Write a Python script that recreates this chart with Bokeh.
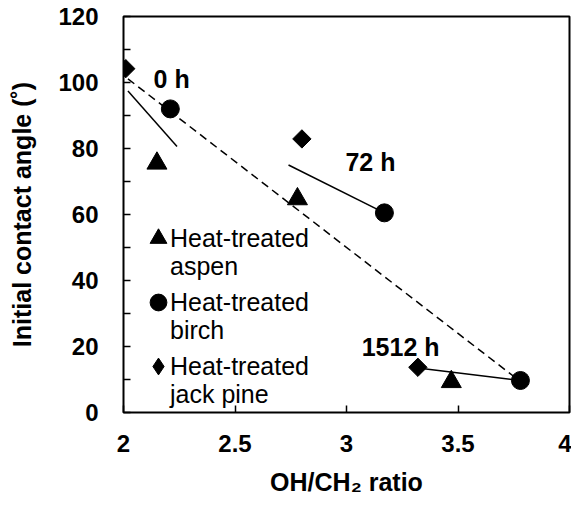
import math
from bokeh.plotting import figure
from bokeh.models import Range1d, FixedTicker, Legend, LegendItem, Label
from bokeh.embed import file_html
from bokeh.resources import INLINE

# ---- data ----
aspen_x = [2.15, 2.78, 3.47]
aspen_y = [75.5, 64.7, 9.3]
birch_x = [2.21, 3.17, 3.78]
birch_y = [92.0, 60.5, 9.7]
jack_x = [2.01, 2.80, 3.32]
jack_y = [104.2, 82.9, 13.7]

# trend lines (endpoints)
dash_x = [2.02, 3.77]
dash_y = [101.1, 9.9]
line0_x = [2.02, 2.24]
line0_y = [97.4, 80.6]
line72_x = [2.74, 3.17]
line72_y = [75.0, 60.5]
line1512_x = [3.32, 3.78]
line1512_y = [13.5, 9.7]

ann_text = ["0 h", "72 h", "1512 h"]
ann_x = [2.135, 2.995, 3.068]
ann_y = [101.0, 76.0, 20.0]

series_line1 = ["Heat-treated", "Heat-treated", "Heat-treated"]
series_line2 = ["aspen", "birch", "jack pine"]

x_ticks = [2, 2.5, 3, 3.5, 4]
y_ticks = [0, 20, 40, 60, 80, 100, 120]
y_minor = [10, 30, 50, 70, 90, 110]

FONT = "Liberation Sans"
FS = "24px"
FS_BIG = "25px"

p = figure(frame_width=446, frame_height=396,
           min_border_left=123, min_border_right=2,
           min_border_top=16, min_border_bottom=88,
           output_backend="svg", toolbar_location=None,
           x_range=Range1d(2, 4), y_range=Range1d(0, 120))

p.background_fill_color = "white"
p.border_fill_color = "white"
p.grid.visible = False
p.outline_line_color = "black"
p.outline_line_width = 2

p.xaxis.ticker = FixedTicker(ticks=x_ticks)
p.yaxis.ticker = FixedTicker(ticks=y_ticks, minor_ticks=y_minor)
p.xaxis.major_label_overrides = {2: "2", 2.5: "2.5", 3: "3", 3.5: "3.5", 4: "4"}

for ax in (p.xaxis[0], p.yaxis[0]):
    ax.axis_line_color = None
    ax.major_tick_in = 7
    ax.major_tick_out = 0
    ax.minor_tick_in = 7
    ax.minor_tick_out = 0
    ax.major_tick_line_color = "black"
    ax.major_tick_line_width = 1.5
    ax.minor_tick_line_width = 1.5
    ax.major_label_text_font = FONT
    ax.major_label_text_font_size = FS
    ax.major_label_text_font_style = "bold"
    ax.major_label_text_color = "black"
    ax.axis_label_text_font = FONT
    ax.axis_label_text_font_size = FS_BIG
    ax.axis_label_text_font_style = "bold"
    ax.axis_label_text_color = "black"

p.xaxis.minor_tick_line_color = None
p.yaxis.minor_tick_line_color = "black"
p.yaxis.major_label_standoff = 25
p.xaxis.major_label_standoff = 22
p.yaxis.axis_label = "Initial contact angle (˚)"
p.xaxis.axis_label = "OH/CH₂ ratio"
p.yaxis.axis_label_standoff = 19
p.xaxis.axis_label_standoff = 13

# lines
p.line(dash_x, dash_y, line_color="black", line_width=1.5, line_dash="8 5")
p.line(line0_x, line0_y, line_color="black", line_width=1.5)
p.line(line72_x, line72_y, line_color="black", line_width=1.5)
p.line(line1512_x, line1512_y, line_color="black", line_width=1.5)

# markers
r_aspen = p.scatter(aspen_x, aspen_y, marker="triangle", size=20,
                    fill_color="black", line_color="black")
r_birch = p.scatter(birch_x, birch_y, marker="circle", size=18,
                    fill_color="black", line_color="black")
# legend glyph for jack pine (legend glyphs ignore rotation); tiny, hidden under the real markers
r_jack_leg = p.scatter(jack_x, jack_y, marker="diamond", size=1,
                       fill_color="black", line_color="black")
r_jack = p.scatter(jack_x, jack_y, marker="square", angle=math.pi / 4, size=13,
                   fill_color="black", line_color="black")
r_blank = p.scatter(jack_x, jack_y, marker="circle", size=1, fill_alpha=0, line_alpha=0)

for t, xx, yy in zip(ann_text, ann_x, ann_y):
    p.add_layout(Label(x=xx, y=yy, text=t, text_font=FONT, text_font_size=FS_BIG,
                       text_font_style="bold", text_color="black",
                       text_align="left", text_baseline="middle"))


def style_legend(lg, gw):
    lg.border_line_color = None
    lg.background_fill_alpha = 0
    lg.label_text_font = FONT
    lg.label_text_font_size = FS_BIG
    lg.label_text_color = "black"
    lg.label_standoff = 0
    lg.glyph_width = gw
    lg.glyph_height = 42
    lg.label_height = 42
    lg.spacing = 22
    lg.padding = 0
    lg.margin = 0


# glyph column
legend_g = Legend(items=[
    LegendItem(label="", renderers=[r_aspen]),
    LegendItem(label="", renderers=[r_birch]),
    LegendItem(label="", renderers=[r_jack_leg]),
], location=(14, 25))
style_legend(legend_g, 42)
# first text line of each entry
legend_t1 = Legend(items=[
    LegendItem(label=s, renderers=[r_blank]) for s in series_line1
], location=(47, 25))
style_legend(legend_t1, 0)
# second text line of each entry
legend_t2 = Legend(items=[
    LegendItem(label=s, renderers=[r_blank]) for s in series_line2
], location=(47, -3))
style_legend(legend_t2, 0)
p.add_layout(legend_g)
p.add_layout(legend_t1)
p.add_layout(legend_t2)

open("out.html", "w").write(file_html(p, INLINE))
